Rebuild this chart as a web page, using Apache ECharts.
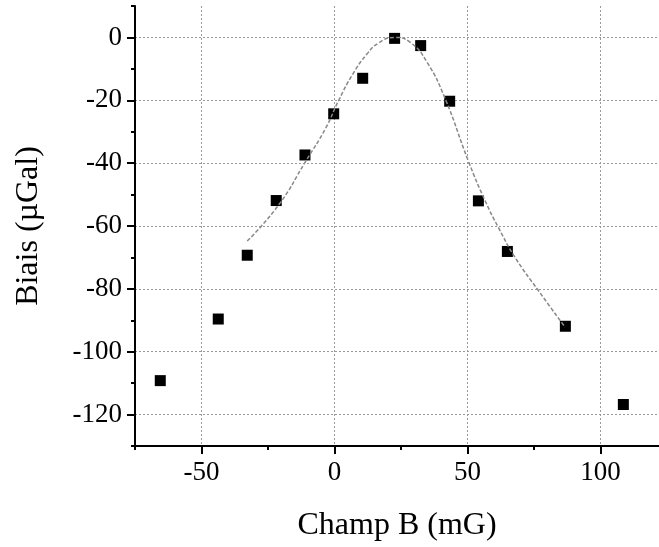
<!DOCTYPE html>
<html>
<head>
<meta charset="utf-8">
<script src="https://cdn.jsdelivr.net/npm/echarts@6/dist/echarts.min.js"></script>
<style>
  html, body { margin: 0; padding: 0; background: #fff; }
  #main { width: 659px; height: 547px; }
</style>
</head>
<body>
<div id="main"></div>
<script>
// measured points: field B (mG) vs bias (µGal)
var champB = [-65.5, -43.7, -32.8, -21.9, -11.1, -0.3, 10.6, 22.6, 32.4, 43.3, 54.1, 65.0, 86.8, 108.6];
var biais = [-109.2, -89.6, -69.3, -51.9, -37.4, -24.3, -13.0, -0.3, -2.6, -20.3, -52.0, -68.1, -91.9, -116.8];

// fitted curve
var fitX = [-32.8, -20.9, -10.9, -3.4, 1.6, 7.0, 12.2, 16.5, 22.5, 28.5, 34.8, 41.6, 50.4, 56.7, 61.7, 67.9, 76.7, 86.7];
var fitY = [-64.8, -53.2, -39.5, -29.0, -20.0, -11.5, -5.3, -1.8, 0, -1.6, -7.9, -19.5, -39.5, -52.1, -60.6, -70.0, -80.6, -92.2];

var xMajor = [-50, 0, 50, 100];
var xMinor = [-75, -25, 25, 75];
var yMajor = [-120, -100, -80, -60, -40, -20, 0];
var yMinor = [-130, -110, -90, -70, -50, -30, -10, 10];

var font = '"Liberation Serif", "Times New Roman", serif';

var chart = echarts.init(document.getElementById('main'));

function pairs(xs, ys) {
  return xs.map(function (x, i) { return [x, ys[i]]; });
}

var axisLineStyle = { show: true, onZero: false, lineStyle: { color: '#000', width: 2 } };
var dotted = { show: true, lineStyle: { color: '#999', type: [2, 2], width: 1 } };

chart.setOption({
  animation: false,
  backgroundColor: '#fff',
  grid: { left: 135, right: 0, top: 6, bottom: 99 },
  xAxis: [{
    type: 'value', min: -75, max: 122, position: 'bottom',
    name: 'Champ B (mG)', nameLocation: 'middle', nameGap: 64,
    nameTextStyle: { fontFamily: font, fontSize: 32, color: '#000' },
    axisLine: axisLineStyle,
    axisTick: { show: true, customValues: xMajor, length: 8, lineStyle: { color: '#000', width: 2 } },
    axisLabel: { customValues: xMajor, fontFamily: font, fontSize: 27, color: '#000', margin: 13 },
    splitLine: dotted
  }, {
    type: 'value', min: -75, max: 122, position: 'bottom', offset: 0,
    axisLine: { show: false, onZero: false },
    axisTick: { show: true, customValues: xMinor, length: 4, lineStyle: { color: '#000', width: 2 } },
    axisLabel: { show: false },
    splitLine: { show: false }
  }],
  yAxis: [{
    type: 'value', min: -130, max: 10, position: 'left',
    name: 'Biais (µGal)', nameLocation: 'middle', nameGap: 90,
    nameTextStyle: { fontFamily: font, fontSize: 32, color: '#000' },
    axisLine: axisLineStyle,
    axisTick: { show: true, customValues: yMajor, length: 8, lineStyle: { color: '#000', width: 2 } },
    axisLabel: { customValues: yMajor, fontFamily: font, fontSize: 27, color: '#000', margin: 13 },
    splitLine: dotted
  }, {
    type: 'value', min: -130, max: 10, position: 'left', offset: 0,
    axisLine: { show: false, onZero: false },
    axisTick: { show: true, customValues: yMinor, length: 4, lineStyle: { color: '#000', width: 2 } },
    axisLabel: { show: false },
    splitLine: { show: false }
  }],
  series: [{
    type: 'line',
    data: pairs(fitX, fitY),
    smooth: 0.5,
    showSymbol: false,
    lineStyle: { color: '#888', width: 1.5, type: [4, 2] },
    z: 3
  }, {
    type: 'scatter',
    data: pairs(champB, biais),
    symbol: 'rect',
    symbolSize: 11,
    itemStyle: { color: '#000', opacity: 1 },
    z: 2
  }]
});
</script>
</body>
</html>
